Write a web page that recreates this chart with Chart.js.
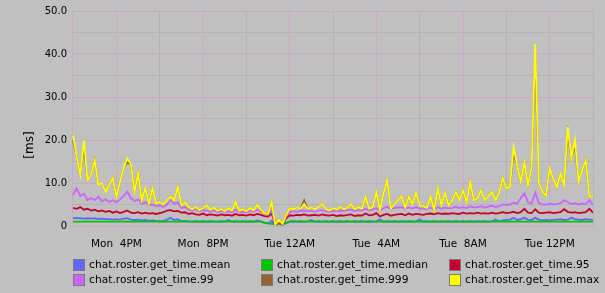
<!DOCTYPE html>
<html>
<head>
<meta charset="utf-8">
<script src="https://cdn.jsdelivr.net/npm/chart.js@4.4.1/dist/chart.umd.min.js"></script>
<style>
body { margin: 0; background: #c0c0c0; }
#wrap { position: relative; width: 605px; height: 293px; }
#chart { position: absolute; left: 0; top: 0; }
.item { position: absolute; font: 10.7px "DejaVu Sans", sans-serif; color: #000; white-space: nowrap; }
.sw { position: absolute; left: 0; top: 0; width: 10px; height: 10px; border: 1px solid #7a7a7a; }
.lbl { position: absolute; left: 16px; top: -1px; line-height: 13px; }
</style>
</head>
<body>
<div id="wrap">
<canvas id="chart" width="605" height="293"></canvas>
<div id="legend"></div>
</div>
<script>
// samples every 10 minutes, starting Mon 14:00 (hours since Mon 00:00)
const startHour = 14.0;
const stepHours = 1 / 6;

const names = ['chat.roster.get_time.mean', 'chat.roster.get_time.median', 'chat.roster.get_time.95',
    'chat.roster.get_time.99', 'chat.roster.get_time.999', 'chat.roster.get_time.max'];
const colors = ['#6464ff', '#00c800', '#c80032', '#c864ff', '#966432', '#ffff00'];

const mean = [
    1.8, 1.9, 1.8, 1.7, 1.8, 1.7, 1.8, 1.6, 1.7, 1.6,
    1.6, 1.5, 1.6, 1.5, 1.7, 1.8, 1.5, 1.4, 1.5, 1.3,
    1.4, 1.2, 1.3, 1.2, 1.1, 1.2, 1.5, 1.9, 1.4, 1.6,
    1.1, 1.2, 1.1, 1.0, 1.1, 1.0, 1.1, 1.0, 1.1, 1.0,
    1.0, 1.1, 1.0, 1.4, 1.0, 1.1, 1.0, 1.1, 1.0, 1.1,
    1.0, 1.3, 1.1, 0.8, 0.6, 1.2, 0.2, 0.5, 0.3, 0.8,
    1.0, 1.1, 1.0, 1.1, 1.0, 1.1, 1.4, 1.0, 1.1, 1.0,
    1.1, 1.0, 1.1, 1.0, 1.1, 1.0, 1.1, 1.0, 1.1, 1.0,
    1.1, 1.0, 1.1, 1.0, 1.1, 1.5, 1.0, 1.1, 1.0, 1.1,
    1.0, 1.1, 1.0, 1.1, 1.0, 1.1, 1.5, 1.0, 1.1, 1.0,
    1.1, 1.0, 1.1, 1.0, 1.1, 1.0, 1.1, 1.0, 1.1, 1.0,
    1.1, 1.0, 1.1, 1.0, 1.1, 1.0, 1.1, 1.5, 1.1, 1.3,
    1.4, 1.5, 1.9, 1.4, 1.6, 1.9, 1.5, 1.4, 1.9, 1.5,
    1.3, 1.4, 1.3, 1.4, 1.5, 1.6, 1.4, 1.5, 1.9, 1.6,
    1.5, 1.4, 1.6, 1.5, 1.4
];
const median = [
    1.0, 1.0, 1.0, 1.0, 1.0, 1.0, 1.0, 1.0, 1.0, 1.0,
    1.0, 1.0, 1.0, 1.0, 1.0, 1.0, 1.0, 1.0, 1.0, 1.0,
    1.0, 1.0, 1.0, 1.0, 1.0, 1.0, 1.0, 1.0, 1.0, 1.0,
    1.0, 1.0, 1.0, 1.0, 1.0, 1.0, 1.0, 1.0, 1.0, 1.0,
    1.0, 1.0, 1.0, 1.0, 1.0, 1.0, 1.0, 1.0, 1.0, 1.0,
    1.0, 1.0, 1.0, 0.7, 0.6, 0.5, 0.4, 0.5, 0.5, 0.6,
    1.0, 1.0, 1.0, 1.0, 1.0, 1.0, 1.0, 1.0, 1.0, 1.0,
    1.0, 1.0, 1.0, 1.0, 1.0, 1.0, 1.0, 1.0, 1.0, 1.0,
    1.0, 1.0, 1.0, 1.0, 1.0, 1.0, 1.0, 1.0, 1.0, 1.0,
    1.0, 1.0, 1.0, 1.0, 1.0, 1.0, 1.0, 1.0, 1.0, 1.0,
    1.0, 1.0, 1.0, 1.0, 1.0, 1.0, 1.0, 1.0, 1.0, 1.0,
    1.0, 1.0, 1.0, 1.0, 1.0, 1.0, 1.0, 1.0, 1.0, 1.0,
    1.0, 1.0, 1.0, 1.0, 1.0, 1.0, 1.0, 1.0, 1.0, 1.0,
    1.0, 1.0, 1.0, 1.0, 1.0, 1.0, 1.0, 1.0, 1.0, 1.0,
    1.0, 1.0, 1.0, 1.0, 1.0
];
const p95 = [
    4.2, 4.0, 4.4, 3.8, 4.0, 3.6, 3.8, 3.4, 3.6, 3.3,
    3.5, 3.1, 3.4, 3.0, 3.3, 3.6, 3.1, 3.0, 3.2, 2.9,
    3.1, 2.9, 3.0, 2.8, 3.0, 3.2, 3.6, 3.7, 3.4, 3.5,
    3.1, 3.2, 2.8, 3.0, 2.7, 2.6, 2.9, 2.5, 2.7, 2.6,
    2.4, 2.7, 2.5, 2.6, 2.4, 2.8, 2.5, 2.6, 2.4, 2.7,
    2.5, 2.8, 2.6, 2.3, 2.2, 2.9, 0.3, 1.0, 0.4, 1.8,
    2.5, 2.4, 2.6, 2.5, 2.7, 2.4, 2.5, 2.6, 2.4, 2.7,
    2.5, 2.4, 2.6, 2.3, 2.5, 2.4, 2.6, 2.7, 2.3, 2.5,
    2.4, 2.9, 2.5, 2.6, 3.0, 2.2, 2.6, 2.8, 2.4, 2.6,
    2.7, 2.8, 2.5, 2.9, 2.6, 2.8, 2.7, 2.6, 2.8, 2.9,
    2.7, 3.0, 2.8, 2.9, 2.8, 3.0, 2.9, 2.8, 3.1, 2.9,
    3.0, 2.9, 3.1, 2.9, 3.0, 2.9, 3.1, 2.9, 3.0, 3.2,
    3.0, 3.1, 3.3, 3.0, 3.2, 4.0, 3.1, 3.0, 3.9, 3.1,
    3.0, 3.1, 3.2, 3.0, 3.1, 3.2, 3.9, 3.3, 3.1, 3.2,
    3.0, 3.1, 3.2, 4.0, 3.1
];
const p99 = [
    7.2, 8.8, 7.0, 7.5, 6.0, 6.5, 6.0, 6.8, 5.8, 6.2,
    5.6, 6.0, 5.5, 6.2, 7.0, 8.0, 6.5, 5.8, 6.2, 5.2,
    5.5, 4.9, 5.0, 4.6, 4.8, 4.4, 5.0, 6.0, 5.2, 5.5,
    4.2, 4.4, 3.8, 3.6, 3.9, 3.4, 3.7, 3.6, 3.3, 3.6,
    3.2, 3.5, 3.2, 3.4, 3.2, 3.8, 3.2, 3.3, 3.2, 3.5,
    3.3, 3.8, 3.4, 2.9, 2.7, 3.6, 0.3, 1.2, 0.5, 2.2,
    3.3, 3.4, 3.3, 3.5, 3.6, 3.4, 3.5, 3.3, 3.6, 3.7,
    3.4, 3.3, 3.5, 3.4, 3.6, 3.5, 3.7, 3.8, 3.5, 3.7,
    3.6, 4.0, 3.7, 3.8, 4.2, 3.6, 4.1, 4.5, 3.9, 4.2,
    4.3, 4.4, 4.0, 4.3, 4.1, 4.4, 4.0, 4.1, 3.9, 4.3,
    3.8, 4.4, 4.0, 4.3, 4.1, 4.2, 4.5, 4.2, 4.4, 4.1,
    4.6, 4.3, 4.4, 4.6, 4.3, 4.5, 4.7, 4.4, 4.6, 5.0,
    4.9, 5.0, 5.4, 5.2, 6.5, 7.6, 5.5, 5.2, 7.8, 5.3,
    5.0, 4.9, 5.2, 5.0, 5.1, 5.3, 6.0, 5.6, 5.1, 5.3,
    5.0, 5.2, 5.1, 6.0, 4.9
];
const p999 = [
    20.0, 16.0, 11.8, 18.5, 10.6, 12.0, 15.3, 9.5, 10.0, 7.9,
    9.5, 11.1, 6.8, 10.3, 13.4, 14.8, 14.4, 7.9, 12.3, 6.0,
    8.8, 5.2, 8.8, 5.2, 5.6, 5.0, 6.0, 6.8, 6.0, 9.1,
    4.8, 5.5, 4.4, 3.9, 4.4, 3.7, 4.2, 4.8, 3.8, 4.3,
    3.5, 4.0, 3.4, 4.2, 3.6, 5.6, 3.5, 3.9, 3.4, 4.2,
    3.6, 4.9, 3.8, 3.0, 2.8, 5.6, 0.3, 1.5, 0.5, 2.5,
    4.1, 3.9, 4.3, 4.0, 6.0, 4.0, 4.3, 3.9, 4.4, 5.1,
    4.0, 3.6, 4.2, 3.8, 4.4, 3.9, 4.3, 5.1, 3.9, 4.4,
    4.0, 6.8, 4.0, 4.4, 7.9, 3.7, 7.7, 10.6, 4.0, 5.1,
    6.0, 6.9, 4.3, 6.8, 5.1, 7.7, 4.8, 4.6, 4.2, 6.8,
    3.7, 8.7, 4.8, 7.7, 4.8, 6.0, 7.9, 6.0, 8.3, 5.5,
    10.3, 6.0, 6.4, 8.3, 6.0, 6.8, 7.9, 6.0, 7.7, 11.1,
    8.7, 9.1, 17.0, 14.1, 10.3, 14.8, 9.5, 13.7, 40.0, 9.9,
    8.0, 7.0, 13.4, 11.0, 9.0, 12.2, 9.5, 21.5, 15.7, 18.8,
    10.3, 13.0, 15.3, 6.8, 7.0
];
const pmax = [
    21.0, 16.0, 11.8, 19.9, 10.6, 12.0, 15.3, 9.5, 10.0, 7.9,
    9.5, 11.1, 6.8, 10.3, 13.4, 15.7, 14.4, 7.9, 12.3, 6.0,
    8.8, 5.2, 8.8, 5.2, 5.6, 5.0, 6.0, 6.8, 6.0, 9.1,
    4.8, 5.5, 4.4, 3.9, 4.4, 3.7, 4.2, 4.8, 3.8, 4.3,
    3.5, 4.0, 3.4, 4.2, 3.6, 5.6, 3.5, 3.9, 3.4, 4.2,
    3.6, 4.9, 3.8, 3.0, 2.8, 5.6, 0.3, 1.5, 0.5, 2.5,
    4.1, 3.9, 4.3, 4.0, 5.1, 4.0, 4.3, 3.9, 4.4, 5.1,
    4.0, 3.6, 4.2, 3.8, 4.4, 3.9, 4.3, 5.1, 3.9, 4.4,
    4.0, 6.8, 4.0, 4.4, 7.9, 3.7, 7.7, 10.6, 4.0, 5.1,
    6.0, 6.9, 4.3, 6.8, 5.1, 7.7, 4.8, 4.6, 4.2, 6.8,
    3.7, 8.7, 4.8, 7.7, 4.8, 6.0, 7.9, 6.0, 8.3, 5.5,
    10.3, 6.0, 6.4, 8.3, 6.0, 6.8, 7.9, 6.0, 7.7, 11.1,
    8.7, 9.1, 18.3, 14.1, 10.3, 14.8, 9.5, 13.7, 42.4, 9.9,
    8.0, 7.0, 13.4, 11.0, 9.0, 12.2, 9.5, 23.0, 15.7, 20.0,
    10.3, 13.0, 15.3, 6.8, 7.0
];

const hours = mean.map((v, i) => startHour + i * stepHours);
const series = [mean, median, p95, p99, p999, pmax];

const majorGrid = '#cca6cc';
const minorGrid = '#b4b4b4';

function hourLabel(h) {
    const day = h < 24 ? 'Mon' : 'Tue';
    const hh = Math.round(h) % 24;
    const h12 = hh % 12 || 12;
    return day + ' ' + (h12 < 10 ? ' ' : '') + h12 + (hh < 12 ? 'AM' : 'PM');
}

const yTitle = {
    id: 'yTitle',
    afterDraw(chart) {
        const c = chart.ctx;
        c.save();
        c.translate(30, 145);
        c.rotate(-Math.PI / 2);
        c.font = '12px "DejaVu Sans"';
        c.fillStyle = '#000';
        c.textAlign = 'center';
        c.textBaseline = 'middle';
        c.fillText('[ms]', 0, 0);
        c.restore();
    }
};

new Chart(document.getElementById('chart'), {
    type: 'line',
    data: {
        datasets: series.map((s, k) => ({
            label: names[k],
            data: s.map((v, i) => ({ x: hours[i], y: v })),
            borderColor: colors[k],
            backgroundColor: colors[k],
            borderWidth: 1.8,
            pointRadius: 0,
            tension: 0,
            order: 5 - k
        }))
    },
    options: {
        responsive: false,
        animation: false,
        layout: { padding: { left: 0, right: 10, top: 10, bottom: 0 } },
        plugins: { legend: { display: false }, tooltip: { enabled: false } },
        scales: {
            x: {
                type: 'linear',
                min: 13.95,
                max: 38.0,
                afterFit: s => { s.height = 67; },
                border: { display: false },
                grid: {
                    drawTicks: false,
                    color: ctx => {
                        const v = ctx.tick.value;
                        if (Math.abs(v % 4) < 1e-6) return majorGrid;
                        if (Math.abs(v % 2) < 1e-6) return minorGrid;
                        return majorGrid;
                    }
                },
                ticks: {
                    stepSize: 2,
                    autoSkip: false,
                    maxRotation: 0,
                    padding: 12,
                    color: '#000',
                    font: { family: 'DejaVu Sans', size: 10.5 },
                    callback: v => (Math.abs(v % 4) < 1e-6 ? hourLabel(v) : '')
                }
            },
            y: {
                min: 0,
                max: 50,
                afterFit: s => { s.width = 72; },
                border: { display: false },
                grid: {
                    drawTicks: false,
                    color: ctx => (ctx.tick.value % 10 === 0 ? majorGrid : minorGrid)
                },
                ticks: {
                    stepSize: 5,
                    padding: 5,
                    color: '#000',
                    font: { family: 'DejaVu Sans', size: 10 },
                    callback: v => (v === 0 ? '0' : v % 10 === 0 ? v.toFixed(1) : '')
                }
            }
        }
    },
    plugins: [yTitle]
});

// legend in three columns, like graphite
const legend = document.getElementById('legend');
names.forEach((name, k) => {
    const col = k % 3, row = Math.floor(k / 3);
    const item = document.createElement('div');
    item.className = 'item';
    item.style.left = (73 + col * 188) + 'px';
    item.style.top = (259 + row * 15) + 'px';
    item.innerHTML = '<div class="sw" style="background:' + colors[k] + '"></div><div class="lbl"></div>';
    item.querySelector('.lbl').textContent = name;
    legend.appendChild(item);
});
</script>
</body>
</html>
